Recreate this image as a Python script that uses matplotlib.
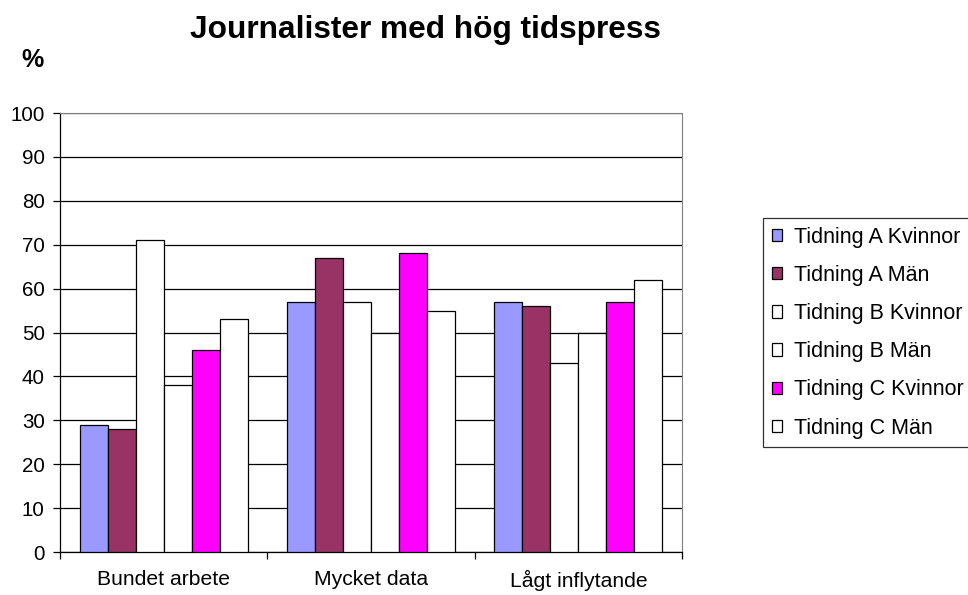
import numpy as np
import matplotlib
matplotlib.use('Agg')
import matplotlib.pyplot as plt

plt.rcParams['font.family'] = ['Liberation Sans', 'DejaVu Sans']

# data
categories = ['Bundet arbete', 'Mycket data', 'Lågt inflytande']
series = ['Tidning A Kvinnor', 'Tidning A Män', 'Tidning B Kvinnor',
          'Tidning B Män', 'Tidning C Kvinnor', 'Tidning C Män']
a_kvinnor = [29, 57, 57]
a_man = [28, 67, 56]
b_kvinnor = [71, 57, 43]
b_man = [38, 50, 50]
c_kvinnor = [46, 68, 57]
c_man = [53, 55, 62]
values = [a_kvinnor, a_man, b_kvinnor, b_man, c_kvinnor, c_man]
colors = ['#9999FF', '#993366', 'white', 'white', '#FF00FF', 'white']

fig = plt.figure(figsize=(9.68, 5.95), dpi=100)
ax = fig.add_axes([60/968, 1-552/595, 622/968, 439/595])

w = 0.135
x = np.arange(len(categories)) + 0.5
for j, (name, vals) in enumerate(zip(series, values)):
    ax.bar(x + (j - 2.5) * w, vals, w, color=colors[j], edgecolor='black',
           linewidth=0.9, label=name, zorder=3)

ax.set_xlim(0, 3)
ax.set_ylim(0, 100)
ax.set_yticks(range(0, 101, 10))
ax.yaxis.grid(True, color='black', linewidth=0.9, zorder=0)
ax.tick_params(axis='y', labelsize=14.8, length=5, width=0.9, pad=6)

ax.set_xticks([0, 1, 2, 3])
ax.set_xticklabels([])
ax.set_xticks(x, minor=True)
ax.set_xticklabels(categories, minor=True)
ax.tick_params(axis='x', which='major', length=5, width=0.9, direction='out')
ax.tick_params(axis='x', which='minor', length=0, labelsize=15.2, pad=13)

ax.spines['top'].set_color('#808080')
ax.spines['right'].set_color('#808080')
for s in ['left', 'bottom']:
    ax.spines[s].set_linewidth(0.9)

fig.text(425/968, 1-30/595, 'Journalister med hög tidspress', fontsize=22.8,
         fontweight='bold', ha='center', va='center')
fig.text(32/968, 1-60/595, '%', fontsize=18, fontweight='bold',
         ha='center', va='center')

leg = fig.legend(loc='upper left', bbox_to_anchor=(763/968, 1-218/595),
                 fontsize=15.5, frameon=True, fancybox=False, edgecolor='black',
                 handlelength=0.5, handleheight=0.5, handletextpad=0.55,
                 labelspacing=0.8, borderpad=0.4, borderaxespad=0)
leg.get_frame().set_linewidth(0.9)

fig.savefig('out.png', dpi=100)
